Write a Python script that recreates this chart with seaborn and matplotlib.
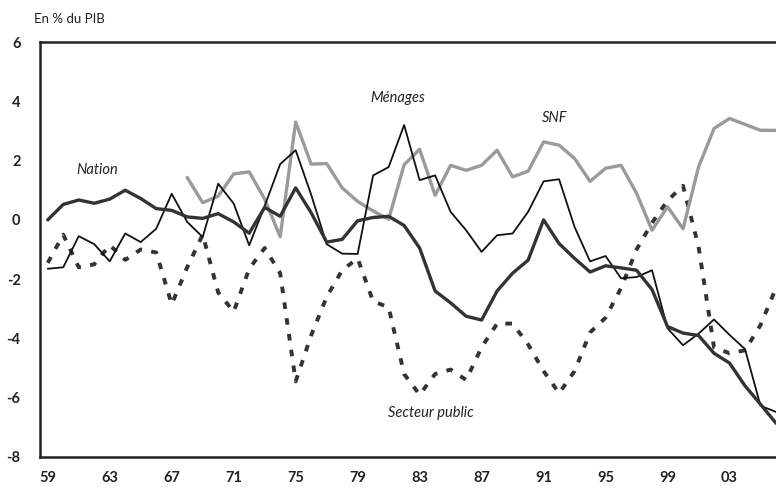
import numpy as np
import pandas as pd
import seaborn as sns
import matplotlib.pyplot as plt
from matplotlib.ticker import FixedLocator

years = list(range(1959, 2007))

nation = [0.0, 0.52, 0.67, 0.56, 0.7, 1.0, 0.72, 0.38, 0.32, 0.1,
          0.05, 0.21, -0.07, -0.45, 0.42, 0.12, 1.08, 0.24, -0.75, -0.66,
          -0.03, 0.08, 0.12, -0.19, -0.95, -2.4, -2.8, -3.25, -3.38, -2.4,
          -1.8, -1.36, 0.0, -0.8, -1.3, -1.76, -1.55, -1.62, -1.7, -2.35,
          -3.6, -3.82, -3.9, -4.5, -4.83, -5.6, -6.22, -6.86]

menages = [-1.65, -1.6, -0.55, -0.82, -1.4, -0.46, -0.75, -0.3, 0.88, -0.07,
           -0.58, 1.22, 0.55, -0.86, 0.47, 1.88, 2.35, 0.85, -0.82, -1.14,
           -1.15, 1.5, 1.78, 3.2, 1.34, 1.5, 0.27, -0.35, -1.08, -0.52,
           -0.46, 0.27, 1.3, 1.37, -0.24, -1.4, -1.22, -1.97, -1.93, -1.7,
           -3.66, -4.23, -3.84, -3.36, -3.88, -4.36, -6.27, -6.48]

snf_years = list(range(1968, 2007))
snf = [1.43, 0.58, 0.8, 1.55, 1.62, 0.7, -0.57, 3.3, 1.88, 1.9,
       1.08, 0.62, 0.3, 0.02, 1.86, 2.38, 0.83, 1.84, 1.67, 1.84,
       2.35, 1.45, 1.64, 2.63, 2.52, 2.07, 1.3, 1.74, 1.84, 0.9,
       -0.35, 0.44, -0.3, 1.78, 3.08, 3.42, 3.22, 3.02, 3.02]

secteur_public = [-1.45, -0.5, -1.6, -1.5, -0.85, -1.35, -1.0, -1.1, -2.85, -1.6,
                  -0.5, -2.45, -3.1, -1.65, -0.95, -1.8, -5.45, -3.9, -2.6, -1.7,
                  -1.3, -2.75, -2.95, -5.2, -5.9, -5.2, -5.05, -5.4, -4.3, -3.5,
                  -3.5, -4.2, -5.1, -5.85, -5.1, -3.8, -3.3, -2.3, -1.0, -0.1,
                  0.65, 1.15, -0.9, -4.3, -4.5, -4.4, -3.55, -2.3]

tick_labels = ["59", "63", "67", "71", "75", "79", "83", "87", "91", "95", "99", "03"]

df = pd.DataFrame({"annee": years, "Nation": nation, "Ménages": menages,
                   "Secteur public": secteur_public})
df_snf = pd.DataFrame({"annee": snf_years, "SNF": snf})

sns.set_style("white")
plt.rcParams['font.family'] = ['Lato', 'DejaVu Sans']

fig = plt.figure(figsize=(7.76, 4.91), dpi=100)
ax = fig.add_axes([40 / 776, 1 - 457 / 491, 736 / 776, 415 / 491])

sns.lineplot(x="annee", y="Secteur public", data=df, color="#333333", lw=2.8,
             linestyle=(0, (1.7, 2.4)), ax=ax)
sns.lineplot(x="annee", y="SNF", data=df_snf, color="#9a9a9a", lw=2.4, ax=ax)
sns.lineplot(x="annee", y="Ménages", data=df, color="#111111", lw=1.3, ax=ax)
sns.lineplot(x="annee", y="Nation", data=df, color="#333333", lw=2.4, ax=ax)

ax.set_xlim(1958.5, 2006)
ax.set_ylim(-8, 6)
ax.set_xlabel("")
ax.set_ylabel("")

label_pos = list(range(1959, 2006, 4))
ax.xaxis.set_major_locator(FixedLocator(label_pos))
ax.set_xticklabels(tick_labels)
ax.xaxis.set_minor_locator(FixedLocator(np.arange(1958.5, 2006, 2)))
ax.set_yticks(range(-8, 7, 2))
ax.set_yticklabels([str(v) for v in range(-8, 7, 2)])
ax.tick_params(axis="x", which="major", length=0, pad=10, labelsize=10.5)
ax.tick_params(axis="x", which="minor", direction="in", length=5, width=1.5, color="#222222")
ax.tick_params(axis="y", direction="in", length=5, width=1.5, color="#222222",
               pad=14, labelsize=10.5)
for lab in ax.get_xticklabels() + ax.get_yticklabels():
    lab.set_fontweight("bold")
    lab.set_color("#222222")

for side in ["left", "bottom", "top"]:
    ax.spines[side].set_visible(True)
    ax.spines[side].set_linewidth(1.8)
    ax.spines[side].set_color("#222222")
ax.spines["right"].set_visible(False)

ax.text(1962.2, 1.67, "Nation", style="italic", fontsize=10.5, ha="center", va="center", color="#222222")
ax.text(1981.6, 4.1, "Ménages", style="italic", fontsize=10.5, ha="center", va="center", color="#222222")
ax.text(1991.7, 3.42, "SNF", style="italic", fontsize=10.5, ha="center", va="center", color="#222222")
ax.text(1983.7, -6.53, "Secteur public", style="italic", fontsize=10.5, ha="center", va="center", color="#222222")

fig.text(34 / 776, 1 - 19 / 491, "En % du PIB", fontsize=9.5, ha="left", va="center", color="#222222")

fig.savefig("out.png", dpi=100)
